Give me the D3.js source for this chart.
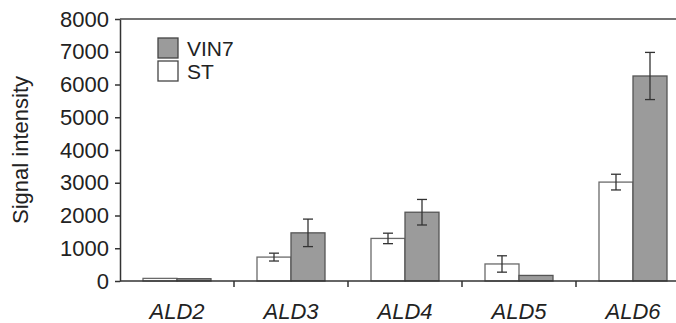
<!DOCTYPE html>
<html>
<head>
<meta charset="utf-8">
<script src="https://cdn.jsdelivr.net/npm/d3@7"></script>
<style>
  body { margin: 0; background: #fff; }
  text { font-family: "Liberation Sans", Arial, sans-serif; fill: #222; }
</style>
</head>
<body>
<script>
"use strict";

// data
const genes = ["ALD2", "ALD3", "ALD4", "ALD5", "ALD6"]
const series = ["ST", "VIN7"]
const stMean = [80, 730, 1300, 520, 3020]
const stErr = [0, 120, 160, 250, 240]
const vinMean = [70, 1470, 2100, 170, 6260]
const vinErr = [0, 420, 390, 0, 720]
const yTicks = [0, 1000, 2000, 3000, 4000, 5000, 6000, 7000, 8000]

const m = { width: 676, height: 323 }
const plot = { left: 120, top: 19, bottom: 281, right: 690 }

const svg = d3.select("body").append("svg")
    .attr("width", m.width)
    .attr("height", m.height)

const x = d3.scaleBand()
    .domain(genes)
    .range([plot.left, plot.right])

const inner = d3.scaleBand()
    .domain(series)
    .range([23, x.bandwidth() - 23])

const y = d3.scaleLinear()
    .domain([0, 8000])
    .range([plot.bottom, plot.top])

const rows = []
genes.forEach(function (g, i) {
    rows.push({ gene: g, s: "ST", v: stMean[i], e: stErr[i] })
    rows.push({ gene: g, s: "VIN7", v: vinMean[i], e: vinErr[i] })
})

const fill = { ST: "#ffffff", VIN7: "#9b9b9b" }
const stroke = { ST: "#6a6a6a", VIN7: "#555" }

// bars
svg.append("g").selectAll("rect")
    .data(rows)
    .enter()
    .append("rect")
    .attr("x", d => x(d.gene) + inner(d.s))
    .attr("width", inner.bandwidth())
    .attr("y", d => y(d.v))
    .attr("height", d => y(0) - y(d.v))
    .attr("fill", d => fill[d.s])
    .attr("stroke", d => stroke[d.s])
    .attr("stroke-width", 1.3)

// error bars
const eb = svg.append("g").attr("stroke", "#333").attr("stroke-width", 1.3)
rows.filter(d => d.e > 0).forEach(function (d) {
    const cx = x(d.gene) + inner(d.s) + inner.bandwidth() / 2
    eb.append("line").attr("x1", cx).attr("x2", cx)
        .attr("y1", y(d.v + d.e)).attr("y2", y(d.v - d.e))
    eb.append("line").attr("x1", cx - 5).attr("x2", cx + 5)
        .attr("y1", y(d.v + d.e)).attr("y2", y(d.v + d.e))
    eb.append("line").attr("x1", cx - 5).attr("x2", cx + 5)
        .attr("y1", y(d.v - d.e)).attr("y2", y(d.v - d.e))
})

// y axis
const yAxis = svg.append("g")
    .attr("transform", `translate(${plot.left},0)`)
    .call(d3.axisLeft(y).tickValues(yTicks).tickFormat(d3.format("d"))
        .tickSize(5).tickPadding(6).tickSizeOuter(0))
yAxis.selectAll("text").style("font-size", "22px").attr("fill", "#222")
yAxis.selectAll("line, path").attr("stroke", "#333").attr("stroke-width", 1.5)

// x axis: ticks sit between categories
const xAxis = svg.append("g")
    .attr("transform", `translate(0,${plot.bottom})`)
xAxis.append("line")
    .attr("x1", plot.left).attr("x2", plot.right)
    .attr("stroke", "#333").attr("stroke-width", 1.5)
xAxis.selectAll(".tk")
    .data(genes.slice(1))
    .enter()
    .append("line")
    .attr("x1", d => x(d)).attr("x2", d => x(d))
    .attr("y1", 0).attr("y2", 6)
    .attr("stroke", "#333").attr("stroke-width", 1.5)
xAxis.selectAll("text")
    .data(genes)
    .enter()
    .append("text")
    .attr("x", d => x(d) + x.bandwidth() / 2)
    .attr("y", 38)
    .attr("text-anchor", "middle")
    .style("font-size", "22px")
    .style("font-style", "italic")
    .text(d => d)

// top frame line
svg.append("line")
    .attr("x1", plot.left).attr("x2", plot.right)
    .attr("y1", plot.top).attr("y2", plot.top)
    .attr("stroke", "#444").attr("stroke-width", 1.5)

// y title
svg.append("text")
    .attr("transform", `translate(28,${(plot.top + plot.bottom) / 2}) rotate(-90)`)
    .attr("text-anchor", "middle")
    .style("font-size", "22px")
    .text("Signal intensity")

// legend
const legend = svg.append("g").attr("transform", "translate(158,38)")
const legendItems = ["VIN7", "ST"]
legendItems.forEach(function (s, i) {
    legend.append("rect")
        .attr("x", 0).attr("y", i * 23)
        .attr("width", 20).attr("height", 20)
        .attr("fill", fill[s]).attr("stroke", "#444").attr("stroke-width", 1.3)
    legend.append("text")
        .attr("x", 29).attr("y", i * 23 + 18)
        .style("font-size", "21px")
        .text(s)
})
</script>
</body>
</html>
